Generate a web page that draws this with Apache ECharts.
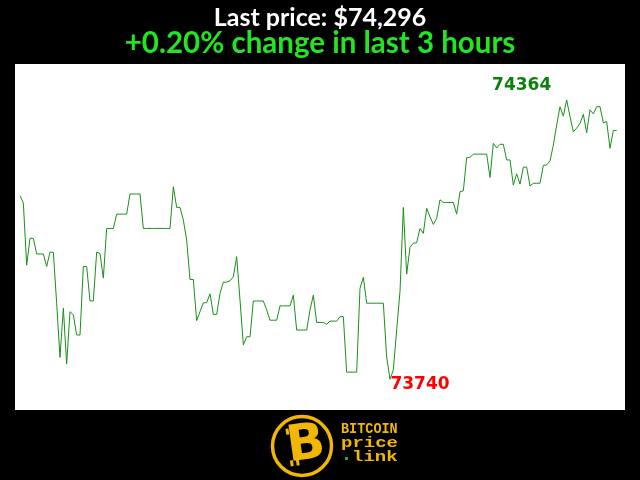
<!DOCTYPE html>
<html>
<head>
<meta charset="utf-8">
<script src="https://cdn.jsdelivr.net/npm/echarts@6/dist/echarts.min.js"></script>
<style>
html,body{margin:0;padding:0;background:#000;}
#c{width:640px;height:480px;}
</style>
</head>
<body>
<div id="c"></div>
<script>
var titleText = 'Last price: $74,296';
var subtitleText = '+0.20% change in last 3 hours';
var minutes = [];
var prices = [
74150,74134,73995,74055,74055,74020,74020,74020,73992,74024,
74024,73910,73789,73899,73774,73891,73884,73839,73839,73992,
73992,73915,73915,74024,74021,73966,74077,74077,74077,74109,
74109,74109,74109,74154,74154,74154,74154,74077,74077,74077,
74077,74077,74077,74077,74077,74077,74170,74124,74124,74096,
74051,73963,73963,73871,73891,73911,73911,73931,73885,73885,
73932,73957,73957,73960,73969,74014,73917,73817,73835,73835,
73915,73915,73915,73915,73895,73872,73872,73872,73904,73904,
73904,73904,73928,73850,73850,73850,73850,73895,73928,73867,
73867,73867,73863,73870,73870,73870,73880,73880,73756,73756,
73756,73756,73943,73968,73910,73910,73910,73910,73910,73910,
73790,73740,73761,73850,73936,74124,73975,74035,74044,74045,
74077,74066,74122,74103,74086,74100,74141,74135,74135,74135,
74135,74109,74159,74161,74235,74236,74243,74243,74243,74243,
74243,74191,74267,74257,74265,74265,74230,74230,74174,74199,
74176,74214,74214,74172,74178,74178,74178,74218,74219,74228,
74263,74308,74349,74328,74364,74327,74293,74301,74312,74332,
74291,74342,74333,74349,74349,74313,74316,74256,74296,74296
];
for (var i = 0; i < prices.length; i++) minutes.push(i);
var seriesData = minutes.map(function (m, i) { return [m, prices[i]]; });

var chart = echarts.init(document.getElementById('c'), null, {renderer: 'canvas'});
var gold = '#f2b705';
var mono = '"Liberation Mono"';
chart.setOption({
  backgroundColor: '#000',
  animation: false,
  title: [
    {text: titleText, left: 'center', top: 0,
     textStyle: {color: '#fff', fontFamily: 'Lato', fontWeight: 'bold', fontSize: 25}},
    {text: subtitleText, left: 'center', top: 23,
     textStyle: {color: '#22e622', fontFamily: 'Lato', fontWeight: 'bold', fontSize: 29.5}}
  ],
  grid: {left: 15, right: 15, top: 64, bottom: 70, show: true, backgroundColor: '#fff', borderWidth: 0},
  xAxis: {type: 'value', min: -1.5, max: 181.5, show: false},
  yAxis: {type: 'value', min: 73671.4, max: 74444.4, show: false},
  series: [{
    type: 'line',
    data: seriesData,
    showSymbol: false,
    lineStyle: {color: '#1a8f1a', width: 1},
    markPoint: {
      symbol: 'circle', symbolSize: 0,
      data: [
        {type: 'max', label: {show: true, color: '#0a820a', offset: [-45, -14]}},
        {type: 'min', label: {show: true, color: '#ff0000', offset: [30, 5]}}
      ],
      label: {fontFamily: 'DejaVu Sans', fontWeight: 'bold', fontSize: 17, position: 'inside'}
    }
  }],
  graphic: [
    {type: 'circle', shape: {cx: 302, cy: 446, r: 29.5}, style: {fill: '#000', stroke: gold, lineWidth: 3.5}},
    {type: 'text', x: 306, y: 446, rotation: 0.14, style: {text: 'B', fill: gold, font: 'bold 50px "DejaVu Sans"', textAlign: 'center', textVerticalAlign: 'middle'}},
    {type: 'rect', shape: {x: 288, y: 427, width: 3, height: 6}, rotation: 0.14, originX: 300, originY: 446, style: {fill: gold}},
    {type: 'rect', shape: {x: 294, y: 427, width: 3, height: 6}, rotation: 0.14, originX: 300, originY: 446, style: {fill: gold}},
    {type: 'rect', shape: {x: 288, y: 459, width: 3, height: 6}, rotation: 0.14, originX: 300, originY: 446, style: {fill: gold}},
    {type: 'rect', shape: {x: 294, y: 459, width: 3, height: 6}, rotation: 0.14, originX: 300, originY: 446, style: {fill: gold}},
    {type: 'text', x: 341, y: 429, scaleY: 1.1, style: {text: 'BITCOIN', fill: gold, font: 'bold 13.5px ' + mono, textVerticalAlign: 'middle'}},
    {type: 'text', x: 341, y: 443, scaleY: 0.8, style: {text: 'price', fill: gold, font: 'bold 19px ' + mono, textVerticalAlign: 'middle'}},
    {type: 'text', x: 352, y: 457, scaleY: 0.8, style: {text: 'link', fill: gold, font: 'bold 19px ' + mono, textVerticalAlign: 'middle'}},
    {type: 'rect', shape: {x: 345, y: 457, width: 3, height: 3}, style: {fill: '#1cb51c'}}
  ]
});
</script>
</body>
</html>
